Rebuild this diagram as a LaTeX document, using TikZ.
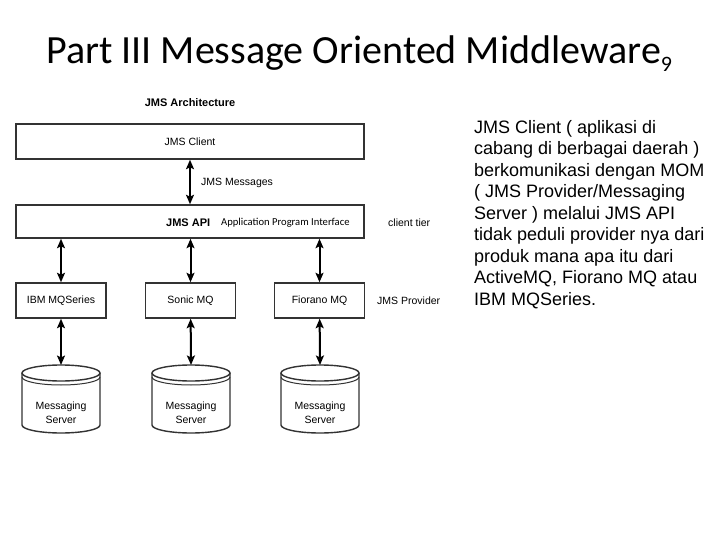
\documentclass[tikz,border=0pt]{standalone}
\usepackage{fontspec}
\setmainfont{Liberation Sans}
\newfontfamily\calib{Carlito}
\usetikzlibrary{arrows.meta}
\begin{document}
\begin{tikzpicture}[x=1pt,y=-1pt,
  box/.style={draw=black!80, line width=1.5pt, fill=white, inner sep=0pt, font=\fontsize{10.5}{12}\selectfont},
  lbl/.style={inner sep=0pt, font=\fontsize{10.5}{12}\selectfont},
  boldlbl/.style={inner sep=0pt, font=\fontsize{11}{13}\selectfont\bfseries},
  dbl/.style={{Stealth[length=9.5pt,width=8pt,inset=2pt]}-{Stealth[length=9.5pt,width=8pt,inset=2pt]}, line width=2pt},
  cyl/.style={draw=black!80, line width=1.4pt},
  prov/.style={box, minimum width=90pt, minimum height=35pt}]
\useasboundingbox (0,0) rectangle (720,540);
\fill[white] (0,0) rectangle (720,540);
% title
\node[anchor=base west, inner sep=0pt, font=\calib\fontsize{40}{44}\selectfont] (title) at (46,64)
  {Part III Message Oriented Middleware\raisebox{-7.5pt}{\fontsize{22}{22}\selectfont 9}};
% diagram
\node[boldlbl] (arch) at (190,103) {JMS Architecture};
\node[box, minimum width=348pt, minimum height=35pt] (client) at (190,141.5) {JMS Client};
\node[box, minimum width=348pt, minimum height=33pt] (api) at (190,221.5) {};
\node[boldlbl, anchor=west] (apil) at (166,223) {JMS API};
\node[inner sep=0pt, anchor=west, font=\calib\fontsize{10.6}{12}\selectfont] (apid) at (221,223) {Application Program Interface};
\draw[dbl] (client) -- (api);
\node[lbl, anchor=west] (msgs) at (201,183) {JMS Messages};
\node[lbl, anchor=west] (tier) at (388,223) {client tier};
% providers
\node[prov] (p1) at (61,300.5) {IBM MQSeries};
\node[prov] (p2) at (190.5,300.5) {Sonic MQ};
\node[prov] (p3) at (319.5,300.5) {Fiorano MQ};
\node[lbl, anchor=west] (provl) at (377,301) {JMS Provider};
\foreach \p in {p1,p2,p3} {\draw[dbl] (api.south -| \p) -- (\p);}
% servers
\foreach \i/\cx in {1/61,2/191,3/320} {
  \coordinate (t\i) at (\cx,365);
  \fill[white] (\cx-39,373) -- (\cx-39,425) arc[start angle=180, end angle=360, x radius=39pt, y radius=8pt] -- (\cx+39,373) arc[start angle=0, end angle=180, x radius=39pt, y radius=8pt] -- cycle;
  \draw[cyl] (\cx-39,373) -- (\cx-39,425) arc[start angle=180, end angle=360, x radius=39pt, y radius=8pt] -- (\cx+39,373);
  \draw[cyl] (\cx,373) ellipse[x radius=39pt, y radius=8pt];
  \draw[draw=black!80, line width=1pt] (\cx-39,377) arc[start angle=180, end angle=360, x radius=39pt, y radius=8pt];
  \node[lbl, align=center, font=\fontsize{10.5}{14}\selectfont] (s\i) at (\cx,413) {Messaging\\Server};
  \draw[dbl] (p\i) -- (t\i);
}
% right text
\node[anchor=north west, inner sep=0pt, align=left, font=\fontsize{18}{21.5}\selectfont] (desc) at (474,120)
  {JMS Client ( aplikasi di\\
   cabang di berbagai daerah )\\
   berkomunikasi dengan MOM\\
   ( JMS Provider/Messaging\\
   Server ) melalui JMS API\\
   tidak peduli provider nya dari\\
   produk mana apa itu dari\\
   ActiveMQ, Fiorano MQ atau\\
   IBM MQSeries.};
\end{tikzpicture}
\end{document}
